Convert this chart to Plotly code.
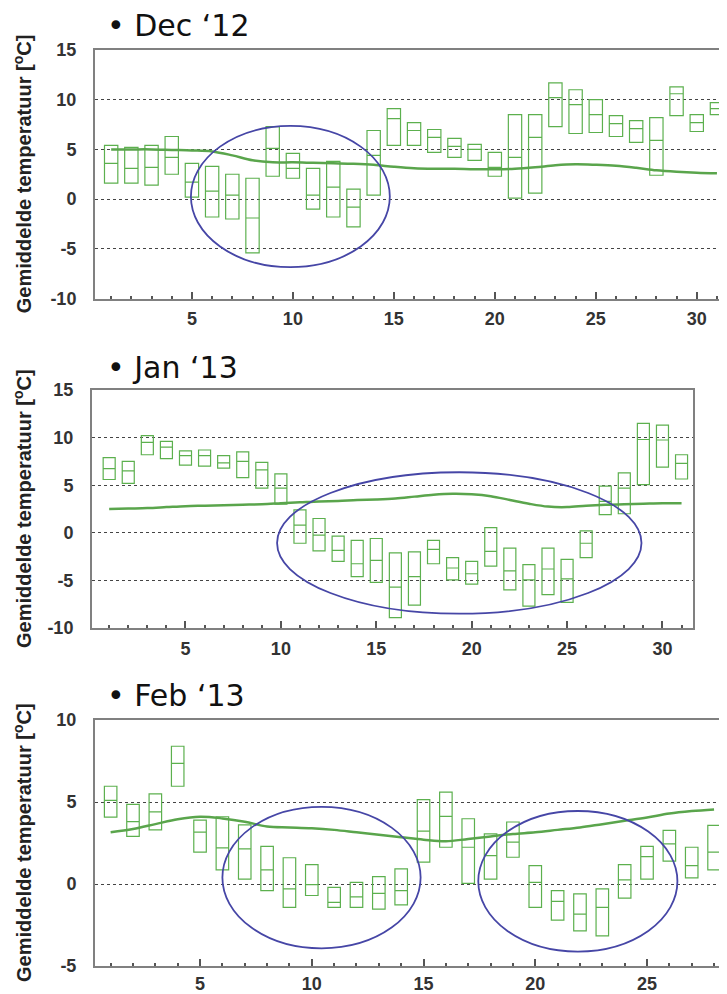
import plotly.graph_objects as go

# ---------------- DATA ----------------
dec_days = list(range(1, 32))
dec_low = [1.6, 1.6, 1.4, 2.5, 0.2, -1.8, -2.0, -5.4, 2.3, 2.1, -1.0, -1.8, -2.8, 0.4,
           5.4, 5.4, 4.7, 4.2, 3.9, 2.3, 0.1, 0.6, 7.3, 6.6, 6.7, 6.3, 5.7, 2.4, 8.4, 6.8, 8.5]
dec_mid = [3.6, 3.1, 3.2, 4.2, 1.7, 0.8, 0.4, -1.9, 5.1, 3.1, 0.4, 1.2, -0.8, 4.4,
           8.1, 6.9, 6.2, 5.3, 5.0, 3.2, 4.2, 6.2, 10.2, 9.5, 8.5, 7.6, 7.1, 5.9, 10.6, 7.7, 9.1]
dec_high = [5.4, 5.2, 5.4, 6.3, 3.6, 3.3, 2.5, 2.1, 7.3, 4.6, 3.1, 3.8, 1.0, 6.9,
            9.1, 7.7, 7.0, 6.1, 5.5, 4.7, 8.5, 8.5, 11.7, 11.0, 10.0, 8.4, 7.9, 8.2, 11.3, 8.5, 9.7]
dec_normal = [5.0, 5.0, 5.0, 4.95, 4.9, 4.8, 4.4, 3.9, 3.7, 3.7, 3.65, 3.6, 3.55, 3.45, 3.25,
              3.1, 3.05, 3.05, 3.0, 3.0, 3.05, 3.2, 3.4, 3.5, 3.45, 3.35, 3.15, 2.9, 2.75, 2.65, 2.6]

jan_days = list(range(1, 32))
jan_low = [5.6, 5.2, 8.2, 7.8, 7.1, 7.0, 6.8, 5.8, 4.7, 3.0, -1.1, -1.9, -3.0, -4.6, -5.2,
           -8.9, -7.6, -3.25, -4.95, -5.4, -3.5, -6.0, -7.7, -6.5, -7.3, -2.6, 1.9, 2.0, 5.05, 6.9, 5.65]
jan_mid = [6.75, 6.5, 9.5, 9.0, 8.1, 8.1, 7.35, 7.5, 6.6, 4.7, 0.8, -0.25, -1.85, -3.25, -2.9,
           -5.7, -4.6, -1.75, -3.7, -4.3, -1.95, -4.0, -4.95, -3.8, -4.85, -1.1, 3.3, 4.7, 9.8, 9.75, 7.3]
jan_high = [7.9, 7.5, 10.2, 9.6, 8.6, 8.7, 8.1, 8.5, 7.4, 6.2, 2.4, 1.5, -0.35, -0.8, -0.6,
            -2.1, -2.0, -0.8, -2.6, -3.0, 0.55, -1.6, -3.35, -1.6, -2.8, 0.2, 4.9, 6.3, 11.5, 11.3, 8.2]
jan_normal = [2.5, 2.55, 2.6, 2.7, 2.8, 2.85, 2.9, 2.95, 3.0, 3.1, 3.2, 3.3, 3.35, 3.45, 3.5,
              3.6, 3.8, 4.0, 4.1, 4.05, 3.85, 3.45, 3.05, 2.75, 2.7, 2.85, 2.95, 3.0, 3.05, 3.1, 3.1]

feb_days = list(range(1, 29))
feb_low = [4.08, 2.9, 3.3, 5.96, 1.94, 0.86, 0.3, -0.4, -1.43, -0.7, -1.43, -1.43, -1.53, -1.27,
           1.33, 2.24, 0.04, 0.3, 1.63, -1.43, -2.2, -2.86, -3.16, -0.86, 0.3, 1.39, 0.37, 0.86]
feb_mid = [5.1, 3.8, 4.4, 7.35, 3.16, 2.2, 2.14, 0.86, -0.3, -0.04, -1.12, -0.78, -0.57, -0.4,
           3.22, 4.12, 2.24, 1.73, 2.55, 0.1, -1.06, -1.84, -1.43, 0.25, 1.67, 2.45, 1.12, 1.94]
feb_high = [5.96, 4.86, 5.5, 8.4, 3.9, 4.1, 3.6, 2.3, 1.6, 1.18, -0.2, 0.1, 0.45, 0.92,
            5.14, 5.6, 3.98, 3.06, 3.78, 1.12, -0.4, -0.6, -0.3, 1.18, 2.3, 3.27, 2.24, 3.57]
feb_normal = [3.15, 3.35, 3.65, 3.95, 4.1, 4.0, 3.8, 3.5, 3.45, 3.4, 3.3, 3.15, 3.0, 2.85,
              2.7, 2.6, 2.75, 2.9, 3.05, 3.15, 3.3, 3.45, 3.65, 3.85, 4.05, 4.3, 4.45, 4.55]

panel_titles = ["\u2022 Dec \u201812", "\u2022 Jan \u201813", "\u2022 Feb \u201813"]
y_title = "Gemiddelde temperatuur [<sup>o</sup>C]"
x_ticks = [5, 10, 15, 20, 25, 30]
y_ticks_wide = [-10, -5, 0, 5, 10, 15]
y_ticks_feb = [-5, 0, 5, 10]

# highlight ellipses per panel: (x0, x1, y0, y1)
dec_ellipses = [(4.95, 14.8, -6.85, 7.36)]
jan_ellipses = [(9.8, 28.9, -8.5, 6.36)]
feb_ellipses = [(6.0, 14.87, -3.92, 4.7), (17.45, 26.36, -4.12, 4.45)]

# ---------------- STYLE ----------------
BOX_GREEN = "#5cb04e"
LINE_GREEN = "#5aa54c"
ELLIPSE_BLUE = "#4646a6"
PAGE_W, PAGE_H = 727, 994
OFF = 8  # default page body margin of the html page
W, H = PAGE_W - OFF, PAGE_H - OFF
TICKFONT = dict(family="Liberation Sans, Arial", size=18, color="#333", weight="bold")

panels = [
    dict(days=dec_days, low=dec_low, mid=dec_mid, high=dec_high, normal=dec_normal,
         ell=dec_ellipses, xpx=(95, 723), ypx=(50, 298.5), xr=[0.2, 31.3], yr=[-10, 15],
         ticks=y_ticks_wide, title_y=25, bw=0.66, xstand=3),
    dict(days=jan_days, low=jan_low, mid=jan_mid, high=jan_high, normal=jan_normal,
         ell=jan_ellipses, xpx=(92, 693), ypx=(390, 628), xr=[0.1, 31.6], yr=[-10, 15],
         ticks=y_ticks_wide, title_y=367, bw=0.63, xstand=3),
    dict(days=feb_days, low=feb_low, mid=feb_mid, high=feb_high, normal=feb_normal,
         ell=feb_ellipses, xpx=(95, 723), ypx=(720, 966), xr=[0.3, 28.4], yr=[-5, 10],
         ticks=y_ticks_feb, title_y=695, bw=0.56, xstand=0),
]


def px_x(v):
    return (v - OFF) / W


def px_y(v):
    return 1 - (v - OFF) / H


fig = go.Figure()
annotations = []
shapes = []

for i, p in enumerate(panels):
    n = i + 1
    xa = "x" if n == 1 else f"x{n}"
    ya = "y" if n == 1 else f"y{n}"
    fig.add_trace(go.Box(
        x=p["days"], q1=p["low"], median=p["mid"], q3=p["high"],
        lowerfence=p["low"], upperfence=p["high"],
        width=p["bw"], whiskerwidth=0, fillcolor="rgba(0,0,0,0)",
        line=dict(color=BOX_GREEN, width=1.2), boxpoints=False,
        xaxis=xa, yaxis=ya, showlegend=False))
    fig.add_trace(go.Scatter(
        x=p["days"], y=p["normal"], mode="lines",
        line=dict(color=LINE_GREEN, width=2.5, shape="spline"),
        xaxis=xa, yaxis=ya, showlegend=False))

    xd = [px_x(p["xpx"][0]), px_x(p["xpx"][1])]
    yd = [px_y(p["ypx"][1]), px_y(p["ypx"][0])]
    axkey = "" if n == 1 else str(n)
    fig.update_layout(**{
        f"xaxis{axkey}": dict(
            domain=xd, range=p["xr"], anchor=ya, automargin=False,
            tickmode="array", tickvals=x_ticks, ticktext=[str(v) for v in x_ticks],
            ticks="inside", ticklen=7, tickwidth=1.5, tickcolor="#555",
            minor=dict(ticks="inside", ticklen=3, tickcolor="#555", dtick=1, tick0=0, showgrid=False),
            showgrid=False, zeroline=False, showline=True, mirror=True,
            linecolor="#808080", linewidth=2, tickfont=TICKFONT, ticklabelstandoff=p["xstand"]),
        f"yaxis{axkey}": dict(
            domain=yd, range=p["yr"], anchor=xa, automargin=False,
            tickmode="array", tickvals=p["ticks"], ticktext=[str(v) for v in p["ticks"]],
            ticks="", showgrid=True, gridcolor="#444", griddash="dot", gridwidth=1.3,
            zeroline=False, showline=True, mirror=True, linecolor="#808080", linewidth=2,
            tickfont=TICKFONT, ticklabelstandoff=13),
    })
    for (x0, x1, y0, y1) in p["ell"]:
        shapes.append(dict(type="circle", xref=xa, yref=ya, x0=x0, x1=x1, y0=y0, y1=y1,
                           line=dict(color=ELLIPSE_BLUE, width=1.8)))
    annotations.append(dict(
        text=panel_titles[i], x=px_x(105), y=px_y(p["title_y"]), xref="paper", yref="paper",
        xanchor="left", yanchor="middle", showarrow=False,
        font=dict(family="DejaVu Sans, Verdana", size=30, color="#111")))
    annotations.append(dict(
        text="<b>" + y_title + "</b>", x=px_x(22), y=px_y((p["ypx"][0] + p["ypx"][1]) / 2),
        xref="paper", yref="paper", xanchor="center", yanchor="middle", showarrow=False,
        textangle=-90, font=dict(family="Liberation Sans, Arial", size=20, color="#222")))

fig.update_layout(
    template="none",
    width=W, height=H, margin=dict(l=0, r=0, t=0, b=0, pad=0),
    paper_bgcolor="white", plot_bgcolor="white",
    annotations=annotations, shapes=shapes, showlegend=False,
    font=dict(family="Liberation Sans, Arial"))

fig.write_html("out.html")
